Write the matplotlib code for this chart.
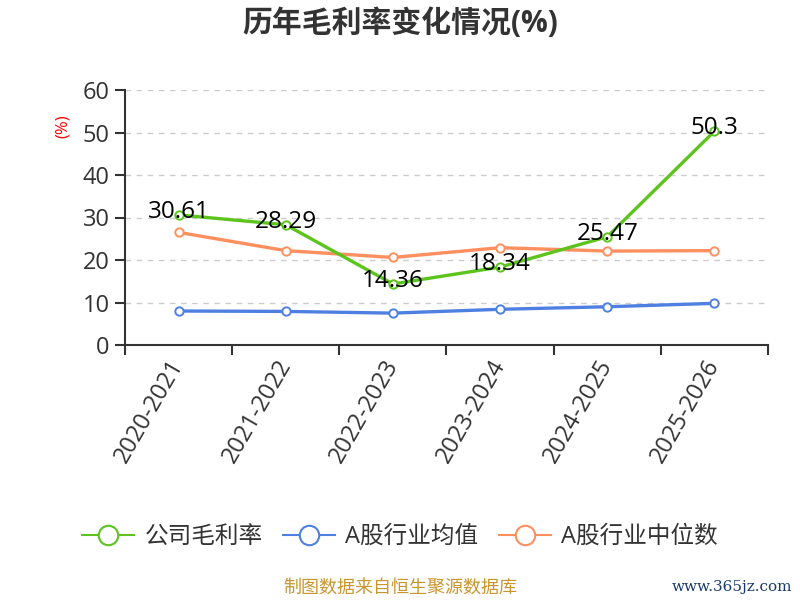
import matplotlib
matplotlib.use('Agg')
import matplotlib.pyplot as plt
from matplotlib.lines import Line2D
import numpy as np

plt.rcParams['font.family'] = ['Open Sans', 'Noto Sans CJK SC', 'DejaVu Sans']

# 数据
years = ['2020-2021', '2021-2022', '2022-2023', '2023-2024', '2024-2025', '2025-2026']
company = [30.61, 28.29, 14.36, 18.34, 25.47, 50.3]
industry_avg = [8.0, 7.9, 7.5, 8.4, 9.0, 9.8]
industry_median = [26.5, 22.2, 20.6, 22.9, 22.1, 22.2]
series_names = ['公司毛利率', 'A股行业均值', 'A股行业中位数']
colors = ['#5cc41c', '#4f80e1', '#ff8f5e']

fig = plt.figure(figsize=(8, 6), dpi=100)
ax = fig.add_axes([0.15625, 0.425, 0.80375, 0.425])

x = np.arange(len(years))
for vals, c, z in zip([company, industry_avg, industry_median], colors, [4, 3, 3]):
    ax.plot(x, vals, color=c, lw=2.4, marker='o', markersize=6,
            markerfacecolor='white', markeredgecolor=c, markeredgewidth=1.4,
            zorder=z)

for xi, v in zip(x, company):
    ax.annotate(f'{v:g}', (xi, v), xytext=(0, 2), textcoords='offset points',
                ha='center', va='center', fontsize=17.5, color='black', zorder=6)

ax.set_xlim(-0.5, len(years) - 0.5)
ax.set_ylim(0, 60)
ax.set_yticks(range(0, 61, 10))
ax.yaxis.grid(True, color='#cccccc', linestyle=(0, (4, 4)), lw=1)
ax.set_axisbelow(True)

ax.set_xticks(x)
ax.set_xticklabels(years, rotation=60, ha='right', va='center',
                   rotation_mode='anchor')
ax.set_xticks(np.arange(-0.5, len(years), 1), minor=True)
ax.tick_params(axis='x', which='major', length=0, pad=12, labelsize=17,
               labelcolor='#333333')
ax.tick_params(axis='x', which='minor', length=7, width=1.5, color='#333333')
ax.tick_params(axis='y', length=7, width=1.5, color='#333333', labelsize=17,
               labelcolor='#333333', pad=4)

for s in ['top', 'right']:
    ax.spines[s].set_visible(False)
for s in ['left', 'bottom']:
    ax.spines[s].set_color('#333333')
    ax.spines[s].set_linewidth(1.5)

fig.text(0.5, 0.96, '历年毛利率变化情况(%)', ha='center', va='center',
         fontsize=21.5, fontweight='bold', color='#333333')
fig.text(0.078, 0.79, '(%)', rotation=90, ha='center', va='center',
         fontsize=12, color='red')

handles = [Line2D([], [], color=c, lw=1.5, marker='o', markersize=14,
                  markerfacecolor='white', markeredgecolor=c, markeredgewidth=1.5)
           for c in colors]
fig.legend(handles, series_names, loc='center', bbox_to_anchor=(0.5, 0.105),
           ncol=3, frameon=False, fontsize=17, handlelength=2.2,
           handletextpad=0.45, columnspacing=0.85, labelcolor='#333333')

fig.text(0.5, 0.02, '制图数据来自恒生聚源数据库', ha='center', va='center',
         fontsize=13, color='#c8962d')
fig.text(0.99, 0.022, 'www.365jz.com', ha='right', va='center',
         fontsize=11, color='#1a3a6b', family='DejaVu Serif')

fig.savefig('out.png', dpi=100)
